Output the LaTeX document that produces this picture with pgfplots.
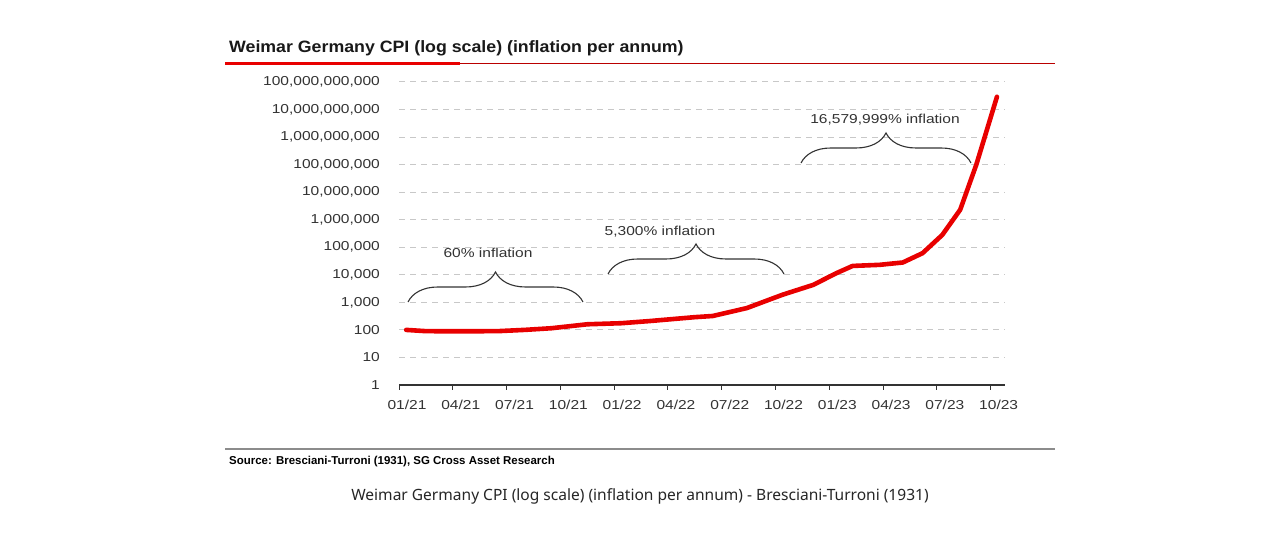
\documentclass[border=0pt]{standalone}
\usepackage{fontspec}
\setmainfont{Liberation Sans}
\newfontfamily\wide[FakeStretch=1.2]{Liberation Sans}
\newfontfamily\titlefont[FakeStretch=1.08]{Liberation Sans}
\newfontfamily\capfont{Noto Sans}
\usepackage{pgfplots}
\pgfplotsset{compat=1.18}
\usetikzlibrary{decorations.pathreplacing}
\definecolor{cpired}{RGB}{232,0,0}
\definecolor{txt}{RGB}{51,51,51}
\definecolor{gridc}{RGB}{200,200,200}
\begin{document}
\begin{tikzpicture}[x=1bp,y=1bp]
\path[use as bounding box, fill=white] (0,0) rectangle (1280,545);
\begin{axis}[
  at={(399bp,160bp)}, anchor=south west, scale only axis,
  width=606bp, height=303bp,
  xmin=0, xmax=33.8,
  ymode=log, ymin=1, ymax=1e11,
  axis x line*=bottom, axis y line*=left,
  y axis line style={draw=none},
  x axis line style={txt, line width=1.2bp},
  ytick style={draw=none},
  xtick style={txt, line width=1bp},
  tick align=outside, major tick length=5bp,
  ymajorgrids, grid style={gridc, line width=1bp, dash pattern=on 6bp off 5bp},
  xtick={0,3,...,33},
  xticklabels={01/21,04/21,07/21,10/21,01/22,04/22,07/22,10/22,01/23,04/23,07/23,10/23},
  ytick={1e0,1e1,1e2,1e3,1e4,1e5,1e6,1e7,1e8,1e9,1e10,1e11},
  yticklabels={1,10,100,{1,000},{10,000},{100,000},{1,000,000},{10,000,000},{100,000,000},{1,000,000,000},{10,000,000,000},{100,000,000,000}},
  ticklabel style={font=\wide\fontsize{13}{15}\selectfont, text=txt, inner sep=0pt},
  yticklabel style={anchor=east, xshift=-14bp},
  xticklabel style={anchor=north, yshift=-10bp, xshift=8bp},
]
\addplot[cpired, line width=4.6bp, line join=round, line cap=round] coordinates {
(0.4,100)
(1.5,90)
(3,89)
(5.5,90)
(7,100)
(8.5,115)
(10.5,160)
(12.4,175)
(14,210)
(16.5,290)
(17.5,320)
(19.4,620)
(21.4,1900)
(23.1,4300)
(24.4,11500)
(25.3,21000)
(26.8,23000)
(28.1,28000)
(29.2,61000)
(30.3,280000)
(31.3,2.3e6)
(32.2,1e8)
(33.35,2.9e10)
};
\end{axis}
% braces and notes
\draw[txt, line width=1.1bp, decorate, decoration={brace, amplitude=30bp}] (408,243) -- (583,243);
\draw[txt, line width=1.1bp, decorate, decoration={brace, amplitude=30bp}] (608,271) -- (784,271);
\draw[txt, line width=1.1bp, decorate, decoration={brace, amplitude=30bp}] (801,382) -- (971,382);
\node[font=\wide\fontsize{13}{15}\selectfont, text=txt] at (488,292.3) {60\% inflation};
\node[font=\wide\fontsize{13}{15}\selectfont, text=txt] at (660,313.3) {5,300\% inflation};
\node[font=\wide\fontsize{13}{15}\selectfont, text=txt] at (885,425) {16,579,999\% inflation};
% title and rules
\node[anchor=base west, inner sep=0pt, font=\titlefont\bfseries\fontsize{16.5}{18}\selectfont, text=black!90] at (229,492) {Weimar Germany CPI (log scale) (inflation per annum)};
\fill[cpired] (225,480) rectangle (460,483.3);
\fill[cpired!80!black] (460,480.9) rectangle (1055,482.1);
\draw[black!45, line width=1.6bp] (225,96) -- (1055,96);
\node[anchor=base west, inner sep=0pt, font=\bfseries\fontsize{11.5}{13}\selectfont] at (229,80) {Source: Bresciani-Turroni (1931), SG Cross Asset Research};
\node[anchor=base, inner sep=0pt, font=\capfont\fontsize{15.6}{18}\selectfont, text=black!85] at (640,44) {Weimar Germany CPI (log scale) (inflation per annum) - Bresciani-Turroni (1931)};
\end{tikzpicture}
\end{document}
